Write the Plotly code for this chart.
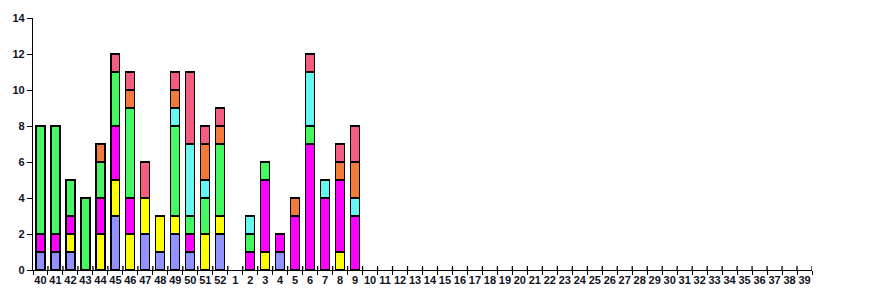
import plotly.graph_objects as go

weeks = [str(w) for w in range(40, 53)] + [str(w) for w in range(1, 40)]
n_extra = 30  # weeks 10..39 empty

blue    = [1,1,1,0,0,3,0,2,1,2,1,0,2, 0,0,0,1,0,0,0,0,0] + [0]*n_extra
yellow  = [0,0,1,0,2,2,2,2,2,1,0,2,1, 0,0,1,0,0,0,0,1,0] + [0]*n_extra
magenta = [1,1,1,0,2,3,2,0,0,0,1,0,0, 0,1,4,1,3,7,4,4,3] + [0]*n_extra
green   = [6,6,2,4,2,3,5,0,0,5,1,2,4, 0,1,1,0,0,1,0,0,0] + [0]*n_extra
cyan    = [0,0,0,0,0,0,0,0,0,1,4,1,0, 0,1,0,0,0,3,1,0,1] + [0]*n_extra
orange  = [0,0,0,0,1,0,1,0,0,1,0,2,1, 0,0,0,0,1,0,0,1,2] + [0]*n_extra
pink    = [0,0,0,0,0,1,1,2,0,1,4,1,1, 0,0,0,0,0,1,0,1,2] + [0]*n_extra

series = [
    ("A", blue, "#9191FF"),
    ("B", yellow, "#FFFF00"),
    ("C", magenta, "#FF00FF"),
    ("D", green, "#44F862"),
    ("E", cyan, "#66F8F0"),
    ("F", orange, "#F47A3C"),
    ("G", pink, "#F45C80"),
]

fig = go.Figure()
for name, vals, col in series:
    fig.add_trace(go.Bar(
        x=weeks, y=[v if v else None for v in vals], name=name,
        marker=dict(color=col, line=dict(color="black", width=1.2)),
        width=0.6, showlegend=False,
    ))

n = len(weeks)
ymax = 14
plot_h = 300 - 18 - 30
tick_up = 4 * ymax / plot_h  # upper half of the crossing x ticks (4 px)
boundaries = [i - 0.5 for i in range(1, n + 1)]
fig.add_trace(go.Scatter(
    x=boundaries, y=[0]*len(boundaries), xaxis="x2", yaxis="y",
    mode="markers", marker=dict(opacity=0, size=1),
    error_y=dict(type="data", symmetric=False, array=[tick_up]*len(boundaries),
                 arrayminus=[0]*len(boundaries), color="black",
                 thickness=1.3, width=0),
    showlegend=False, hoverinfo="skip", cliponaxis=False))

tickfont = dict(family="Liberation Sans, Arial, sans-serif", size=11,
                color="#111122", weight="bold")

fig.update_layout(
    barmode="stack",
    width=870, height=300,
    margin=dict(l=33, r=58, t=18, b=30),
    plot_bgcolor="white", paper_bgcolor="white",
    xaxis=dict(type="category", range=[-0.5, n - 0.5],
               showline=True, linecolor="black", linewidth=1.3,
               ticks="outside", ticklen=4, tickcolor="black", tickwidth=1.3,
               tickson="boundaries", showgrid=False, tickfont=tickfont,
               tickangle=0, automargin=False, ticklabelstandoff=0),
    xaxis2=dict(type="linear", overlaying="x", anchor="y", side="bottom",
                range=[-0.5, n - 0.5], visible=False, showgrid=False,
                zeroline=False, automargin=False),
    yaxis=dict(range=[0, ymax], dtick=2, showline=True, linecolor="black",
               linewidth=1.3, ticks="outside", ticklen=5, tickcolor="black",
               tickwidth=1.3, showgrid=False, zeroline=False, tickfont=tickfont,
               automargin=False),
)

fig.write_html("out.html")
